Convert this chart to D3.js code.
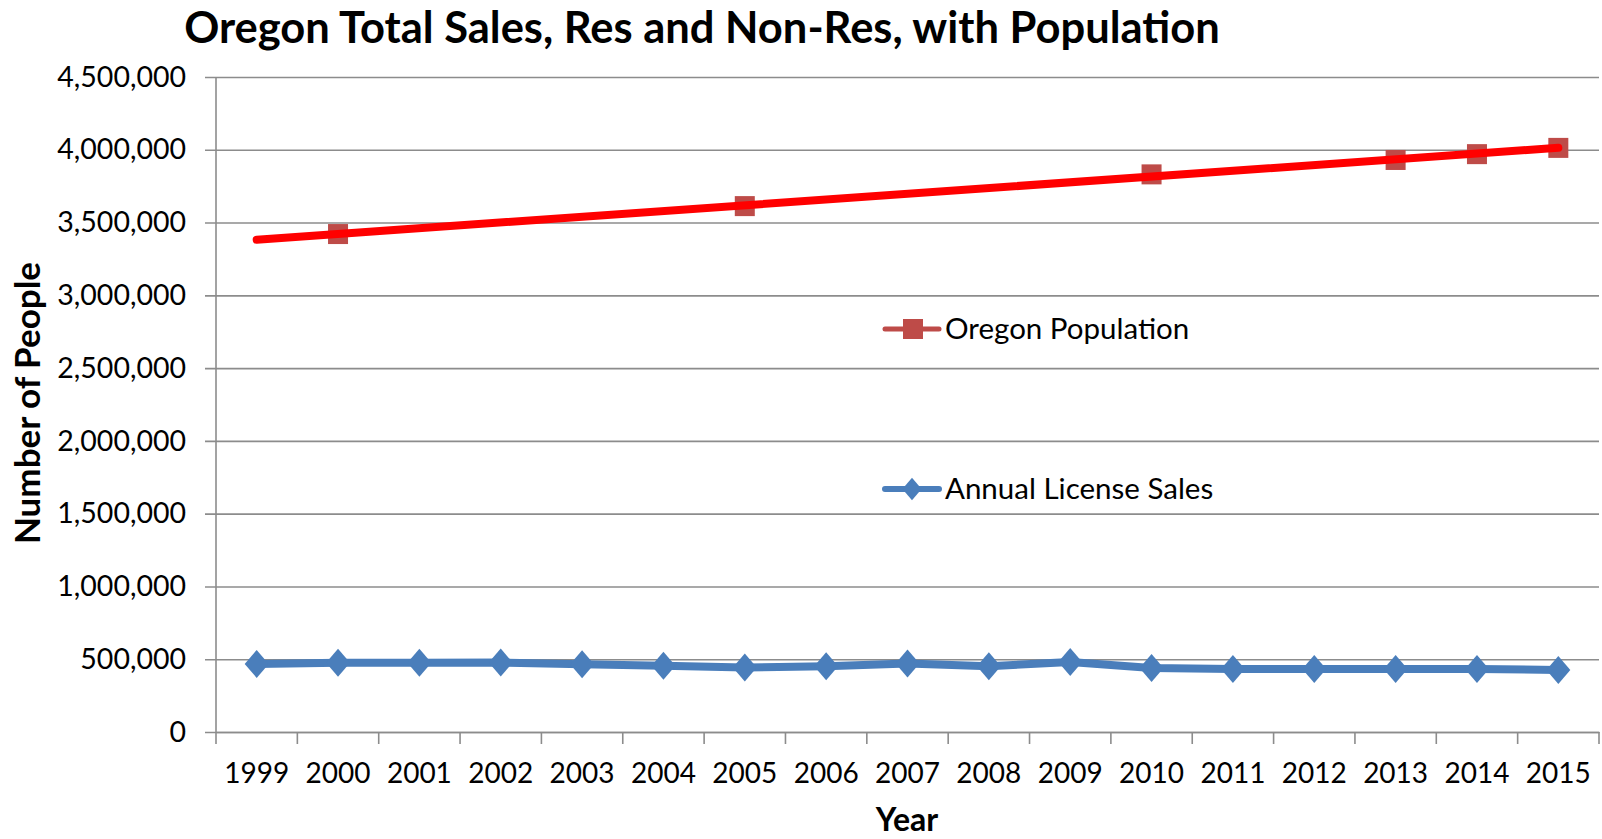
<!DOCTYPE html>
<html>
<head>
<meta charset="utf-8">
<script src="https://cdn.jsdelivr.net/npm/d3@7"></script>
<style>
  body { margin: 0; background: #fff; }
  text { font-family: Lato, "Open Sans", sans-serif; fill: #000; }
</style>
</head>
<body>
<div class="chart"></div>
<script>
const years = [1999, 2000, 2001, 2002, 2003, 2004, 2005, 2006, 2007, 2008, 2009, 2010, 2011, 2012, 2013, 2014, 2015];
const licenseSales = [468000, 475000, 475000, 477000, 466000, 455000, 443000, 452000, 470000, 452000, 481000, 440000, 433000, 433000, 433000, 433000, 426000];
const popYears = [2000, 2005, 2010, 2013, 2014, 2015];
const population = [3421000, 3613000, 3831000, 3930000, 3970000, 4013000];
const yTicks = [0, 500000, 1000000, 1500000, 2000000, 2500000, 3000000, 3500000, 4000000, 4500000];

const margin = ({top: 77, right: 3, bottom: 107, left: 216});
const width = 1602 - margin.left - margin.right;
const height = 839 - margin.top - margin.bottom;

const svg = d3.select('.chart').append('svg')
	.attr('width', 1602)
	.attr('height', 839)
	.append('g')
	.attr('transform', 'translate(' + margin.left + ',' + margin.top + ')');

const xScale = d3.scaleBand()
	.domain(years)
	.range([0, width]);

const yScale = d3.scaleLinear()
	.domain([0, 4500000])
	.range([height, 0]);

const cx = d => xScale(d) + xScale.bandwidth() / 2;

// gridlines + y axis
const yAxis = d3.axisLeft(yScale)
	.tickValues(yTicks)
	.tickFormat(d3.format(','))
	.tickSize(-width)
	.tickPadding(30);

const gy = svg.append('g')
	.attr('class', 'axis y-axis')
	.call(yAxis);
gy.select('.domain').remove();
gy.selectAll('.tick line')
	.attr('x1', -11)
	.attr('stroke', '#8c8c8c')
	.attr('stroke-width', 1.6);
gy.selectAll('.tick text')
	.attr('font-size', '28.5px')
	.attr('x', -30);

// vertical axis line
svg.append('line')
	.attr('x1', 0).attr('x2', 0)
	.attr('y1', 0).attr('y2', height)
	.attr('stroke', '#8c8c8c')
	.attr('stroke-width', 1.6);

// x axis: labels centered in bands
const xAxis = d3.axisBottom(xScale)
	.tickSize(0)
	.tickPadding(31);

const gx = svg.append('g')
	.attr('class', 'axis x-axis')
	.attr('transform', `translate(0, ${height})`)
	.call(xAxis);
gx.select('.domain')
	.attr('stroke', '#8c8c8c')
	.attr('stroke-width', 1.6);
gx.selectAll('.tick text')
	.attr('font-size', '28px');

// tick marks between categories
const boundaries = years.map(d => xScale(d)).concat([width]);
gx.selectAll('.bound')
	.data(boundaries)
	.enter()
	.append('line')
	.attr('class', 'bound')
	.attr('x1', d => d).attr('x2', d => d)
	.attr('y1', 0).attr('y2', 12)
	.attr('stroke', '#8c8c8c')
	.attr('stroke-width', 1.6);

// license sales line
const salesData = years.map((y, i) => ({year: y, value: licenseSales[i]}));
const line = d3.line()
	.x(d => cx(d.year))
	.y(d => yScale(d.value));

svg.append('path')
	.datum(salesData)
	.attr('fill', 'none')
	.attr('stroke', '#4a7ebb')
	.attr('stroke-width', 8)
	.attr('stroke-linejoin', 'round')
	.attr('d', line);

const diamond = 'M0,-14L12,0L0,14L-12,0Z';
svg.selectAll('.dot')
	.data(salesData)
	.enter()
	.append('path')
	.attr('class', 'dot')
	.attr('d', diamond)
	.attr('transform', d => `translate(${cx(d.year)},${yScale(d.value)})`)
	.attr('fill', '#4a7ebb');

// population markers
const popData = popYears.map((y, i) => ({year: y, value: population[i]}));
svg.selectAll('.sq')
	.data(popData)
	.enter()
	.append('rect')
	.attr('class', 'sq')
	.attr('x', d => cx(d.year) - 10)
	.attr('y', d => yScale(d.value) - 10)
	.attr('width', 20)
	.attr('height', 20)
	.attr('fill', '#be4b48');

// linear trendline for population, over all years
const idx = popYears.map(y => years.indexOf(y));
const mx = d3.mean(idx), my = d3.mean(population);
const slope = d3.sum(idx, (x, i) => (x - mx) * (population[i] - my)) / d3.sum(idx, x => (x - mx) * (x - mx));
const intercept = my - slope * mx;
const trend = [years[0], years[years.length - 1]].map(y => ({year: y, value: intercept + slope * years.indexOf(y)}));

svg.append('path')
	.datum(trend)
	.attr('fill', 'none')
	.attr('stroke', '#ff0000')
	.attr('stroke-width', 8)
	.attr('stroke-linecap', 'round')
	.attr('d', line);

// legend
const legend = svg.append('g')
	.attr('transform', `translate(${885 - margin.left}, 0)`);

const popLeg = legend.append('g').attr('transform', `translate(0, ${329 - margin.top})`);
popLeg.append('line')
	.attr('x1', 0).attr('x2', 54)
	.attr('stroke', '#be4b48').attr('stroke-width', 5).attr('stroke-linecap', 'round');
popLeg.append('rect')
	.attr('x', 18).attr('y', -10).attr('width', 20).attr('height', 20)
	.attr('fill', '#be4b48');
popLeg.append('text')
	.attr('x', 60).attr('dy', '0.35em')
	.attr('font-size', '29.5px')
	.text('Oregon Population');

const salesLeg = legend.append('g').attr('transform', `translate(0, ${489 - margin.top})`);
salesLeg.append('line')
	.attr('x1', 0).attr('x2', 54)
	.attr('stroke', '#4a7ebb').attr('stroke-width', 6).attr('stroke-linecap', 'round');
salesLeg.append('path')
	.attr('d', diamond)
	.attr('transform', 'translate(27,0) scale(0.8)')
	.attr('fill', '#4a7ebb');
salesLeg.append('text')
	.attr('x', 60).attr('dy', '0.35em')
	.attr('font-size', '29.5px')
	.text('Annual License Sales');

// titles
svg.append('text')
	.attr('x', 702 - margin.left)
	.attr('y', 43 - margin.top)
	.attr('text-anchor', 'middle')
	.attr('font-size', '43.5px')
	.attr('font-weight', 'bold')
	.text('Oregon Total Sales, Res and Non-Res, with Population');

svg.append('text')
	.attr('transform', `translate(${28 - margin.left}, ${403 - margin.top}) rotate(-90)`)
	.attr('text-anchor', 'middle')
	.attr('dy', '0.35em')
	.attr('font-size', '35px')
	.attr('font-weight', 'bold')
	.text('Number of People');

svg.append('text')
	.attr('x', 907 - margin.left)
	.attr('y', 831 - margin.top)
	.attr('text-anchor', 'middle')
	.attr('font-size', '32px')
	.attr('font-weight', 'bold')
	.text('Year');
</script>
</body>
</html>
